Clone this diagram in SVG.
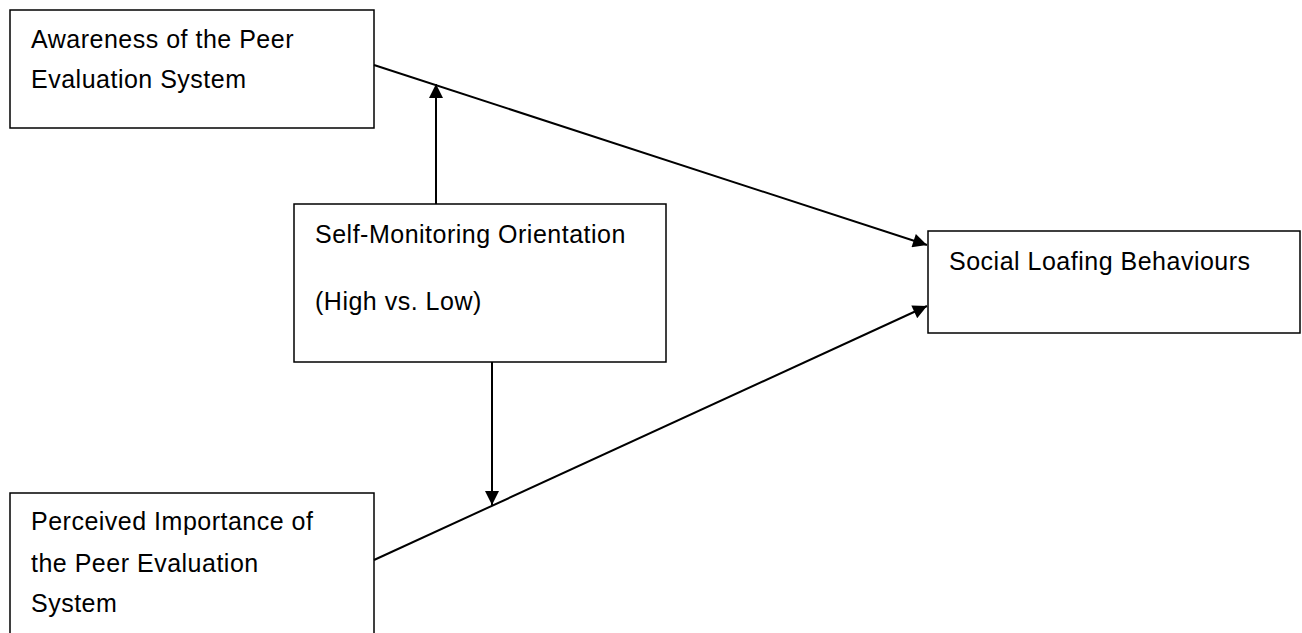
<svg xmlns="http://www.w3.org/2000/svg" width="1302" height="633" viewBox="0 0 1302 633">
<style>
rect.box{fill:#fff;stroke:#000;stroke-width:1.5}
text{font-family:"Liberation Sans",Arial,sans-serif;font-size:25px;letter-spacing:0.5px;fill:#000}
.conn line{stroke:#000;stroke-width:2}
</style>
<defs>
<marker id="ah2" viewBox="0 0 10 10" refX="10" refY="5" markerWidth="15" markerHeight="14" markerUnits="userSpaceOnUse" orient="auto"><path d="M0,0L10,5L0,10z" fill="#000"/></marker>
</defs>
<rect width="1302" height="633" fill="#fff"/>
<g id="awareness"><rect class="box" x="10" y="10" width="364" height="118"/><text x="31" y="48">Awareness of the Peer</text><text x="31" y="88">Evaluation System</text></g>
<g id="selfmon"><rect class="box" x="294" y="204" width="372" height="158"/><text x="315" y="243">Self-Monitoring Orientation</text><text x="315" y="310">(High vs. Low)</text></g>
<g id="loafing"><rect class="box" x="928" y="231" width="372" height="102"/><text x="949" y="270">Social Loafing Behaviours</text></g>
<g id="importance"><rect class="box" x="10" y="493" width="364" height="145"/><text x="31" y="530">Perceived Importance of</text><text x="31" y="572">the Peer Evaluation</text><text x="31" y="612">System</text></g>
<g class="conn">
<line x1="374" y1="65" x2="927" y2="245" marker-end="url(#ah2)"/>
<line x1="374" y1="560" x2="927" y2="306" marker-end="url(#ah2)"/>
<line x1="436" y1="204" x2="436" y2="84" marker-end="url(#ah2)"/>
<line x1="492" y1="362" x2="492" y2="505" marker-end="url(#ah2)"/>
</g>
</svg>
